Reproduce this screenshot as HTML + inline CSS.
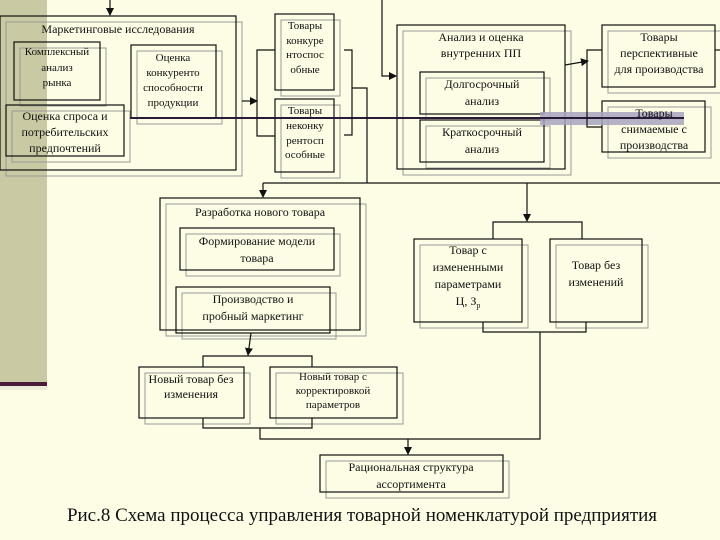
<!DOCTYPE html>
<html><head><meta charset="utf-8"><style>
html,body{margin:0;padding:0;background:#fdfde6;}
svg{display:block}
text{font-family:"Liberation Serif",serif;fill:#111;}
</style></head><body>
<svg width="720" height="540" viewBox="0 0 720 540" xmlns="http://www.w3.org/2000/svg">
<rect x="0" y="0" width="720" height="540" fill="#fdfde6"/>
<rect x="0" y="0" width="47" height="382" fill="#c9c9a3"/>
<rect x="0" y="382" width="47" height="4" fill="#4a1a3a"/>
<rect x="0" y="386" width="47" height="4" fill="#ececd8"/>
<defs><marker id="a" markerWidth="8" markerHeight="8" refX="7" refY="4" orient="auto" markerUnits="userSpaceOnUse"><path d="M0,0 L8,4 L0,8 z" fill="#111"/></marker></defs>
<g fill="none" stroke="#999" stroke-width="1">
<rect x="6" y="22" width="236" height="154"/>
<rect x="20" y="48" width="86" height="58"/>
<rect x="137" y="51" width="85" height="73"/>
<rect x="12" y="111" width="118" height="51"/>
<rect x="281" y="20" width="59" height="76"/>
<rect x="281" y="105" width="59" height="73"/>
<rect x="403" y="31" width="168" height="144"/>
<rect x="426" y="78" width="124" height="42"/>
<rect x="426" y="126" width="124" height="42"/>
<rect x="608" y="31" width="113" height="62"/>
<rect x="608" y="107" width="103" height="51"/>
<rect x="166" y="204" width="200" height="132"/>
<rect x="186" y="234" width="154" height="42"/>
<rect x="182" y="293" width="154" height="46"/>
<rect x="145" y="373" width="105" height="51"/>
<rect x="276" y="373" width="127" height="51"/>
<rect x="420" y="245" width="108" height="83"/>
<rect x="556" y="245" width="92" height="83"/>
<rect x="326" y="461" width="183" height="37"/>
</g>
<g fill="none" stroke="#111" stroke-width="1.2">
<rect x="0" y="16" width="236" height="154"/>
<rect x="14" y="42" width="86" height="58"/>
<rect x="131" y="45" width="85" height="73"/>
<rect x="6" y="105" width="118" height="51"/>
<rect x="275" y="14" width="59" height="76"/>
<rect x="275" y="99" width="59" height="73"/>
<rect x="397" y="25" width="168" height="144"/>
<rect x="420" y="72" width="124" height="42"/>
<rect x="420" y="120" width="124" height="42"/>
<rect x="602" y="25" width="113" height="62"/>
<rect x="602" y="101" width="103" height="51"/>
<rect x="160" y="198" width="200" height="132"/>
<rect x="180" y="228" width="154" height="42"/>
<rect x="176" y="287" width="154" height="46"/>
<rect x="139" y="367" width="105" height="51"/>
<rect x="270" y="367" width="127" height="51"/>
<rect x="414" y="239" width="108" height="83"/>
<rect x="550" y="239" width="92" height="83"/>
<rect x="320" y="455" width="183" height="37"/>
</g>
<rect x="540" y="112" width="144" height="13" fill="#a8a4c0" opacity="0.85"/>
<line x1="130" y1="118" x2="684" y2="118" stroke="#2a1a3a" stroke-width="2"/>
<g fill="none" stroke="#111" stroke-width="1.2">
<line x1="110" y1="0" x2="110" y2="15" marker-end="url(#a)"/>
<line x1="242" y1="101" x2="257" y2="101" marker-end="url(#a)"/>
<polyline points="275,50 257,50 257,136 275,136"/>
<polyline points="344,50 352,50 352,135 344,135"/>
<polyline points="352,88 367,88 367,183"/>
<line x1="263" y1="183" x2="720" y2="183"/>
<line x1="263" y1="183" x2="263" y2="197" marker-end="url(#a)"/>
<line x1="527" y1="183" x2="527" y2="221" marker-end="url(#a)"/>
<polyline points="382,0 382,76 396,76" marker-end="url(#a)"/>
<line x1="565" y1="65" x2="588" y2="61" marker-end="url(#a)"/>
<polyline points="602,50 587,50 587,127 602,127"/>
<line x1="715" y1="50" x2="720" y2="50"/>
<polyline points="493,239 493,222 582,222 582,239"/>
<polyline points="483,322 483,332 586,332 586,322"/>
<line x1="251" y1="333" x2="248" y2="355" marker-end="url(#a)"/>
<polyline points="203,367 203,356 312,356 312,367"/>
<polyline points="203,418 203,428 312,428 312,418"/>
<polyline points="260,428 260,439 540,439 540,332"/>
<line x1="408" y1="439" x2="408" y2="454" marker-end="url(#a)"/>
</g>
<g text-anchor="middle" style="font-size:12px">
<text x="118" y="33">Маркетинговые исследования</text>
<text x="57" y="55" style="font-size:11px">Комплексный</text><text x="57" y="71" style="font-size:11px">анализ</text><text x="57" y="86" style="font-size:11px">рынка</text>
<text x="173" y="61" style="font-size:11px">Оценка</text><text x="173" y="76" style="font-size:11px">конкуренто</text><text x="173" y="91" style="font-size:11px">способности</text><text x="173" y="106" style="font-size:11px">продукции</text>
<text x="65" y="120">Оценка спроса  и</text><text x="65" y="136">потребительских</text><text x="65" y="152">предпочтений</text>
<text x="305" y="29" style="font-size:11px">Товары</text><text x="305" y="44" style="font-size:11px">конкуре</text><text x="305" y="58" style="font-size:11px">нтоспос</text><text x="305" y="73" style="font-size:11px">обные</text>
<text x="305" y="114" style="font-size:11px">Товары</text><text x="305" y="129" style="font-size:11px">неконку</text><text x="305" y="144" style="font-size:11px">рентосп</text><text x="305" y="158" style="font-size:11px">особные</text>
<text x="481" y="41">Анализ и оценка</text><text x="481" y="57">внутренних ПП</text>
<text x="482" y="88">Долгосрочный</text><text x="482" y="105">анализ</text>
<text x="482" y="136">Краткосрочный</text><text x="482" y="153">анализ</text>
<text x="659" y="41">Товары</text><text x="659" y="57">перспективные</text><text x="659" y="73">для производства</text>
<text x="654" y="117">Товары</text><text x="654" y="133">снимаемые с</text><text x="654" y="149">производства</text>
<text x="260" y="216">Разработка нового товара</text>
<text x="257" y="245">Формирование модели</text><text x="257" y="262">товара</text>
<text x="253" y="303">Производство и</text><text x="253" y="320">пробный маркетинг</text>
<text x="191" y="383">Новый товар без</text><text x="191" y="398">изменения</text>
<text x="333" y="380" style="font-size:11px">Новый товар с</text><text x="333" y="394" style="font-size:11px">корректировкой</text><text x="333" y="408" style="font-size:11px">параметров</text>
<text x="468" y="254">Товар с</text><text x="468" y="271">измененными</text><text x="468" y="288">параметрами</text><text x="468" y="305">Ц, З<tspan style="font-size:8px" dy="3">р</tspan></text>
<text x="596" y="269">Товар без</text><text x="596" y="286">изменений</text>
<text x="411" y="471">Рациональная структура</text><text x="411" y="488">ассортимента</text>
<text x="362" y="521" style="font-size:19px">Рис.8 Схема процесса управления товарной номенклатурой предприятия</text>
</g>
</svg>
</body></html>
